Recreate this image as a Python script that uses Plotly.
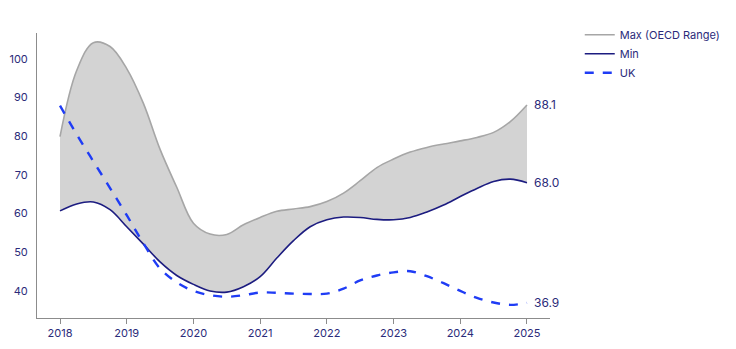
import plotly.graph_objects as go

years = [2018 + 0.25 * i for i in range(29)]
max_vals = [79.9, 97.0, 104.2, 103.2, 97.5, 88.5, 76.6, 66.8, 57.5, 54.7, 54.6, 57.1, 59.0, 60.6, 61.2,
            61.8, 63.1, 65.3, 68.5, 71.9, 74.1, 75.9, 77.1, 78.0, 78.8, 79.7, 81.0, 83.8, 88.1]
min_vals = [60.7, 62.5, 63.0, 61.0, 56.6, 52.1, 47.5, 44.0, 41.7, 40.0, 39.7, 41.1, 43.7, 48.5, 53.0,
            56.6, 58.4, 59.1, 59.0, 58.5, 58.4, 59.0, 60.4, 62.2, 64.4, 66.5, 68.3, 68.9, 68.0]
uk_vals = [87.9, 80.5, 73.5, 66.6, 59.6, 52.3, 45.8, 42.2, 40.0, 38.9, 38.5, 38.9, 39.6, 39.5, 39.3,
           39.2, 39.3, 40.6, 42.7, 44.0, 44.8, 45.1, 43.8, 42.0, 40.0, 38.2, 37.0, 36.4, 36.9]
tick_years = [2018, 2019, 2020, 2021, 2022, 2023, 2024, 2025]
y_ticks = [40, 50, 60, 70, 80, 90, 100]

NAVY = "#1c1c80"
TEXT = "#2b2b7a"
SM = 1.0
fig = go.Figure()
# shaded range (no legend)
fig.add_trace(go.Scatter(x=years, y=max_vals, mode="lines", showlegend=False, hoverinfo="skip",
                         line=dict(width=0, shape="spline", smoothing=SM)))
fig.add_trace(go.Scatter(x=years, y=min_vals, mode="lines", showlegend=False, hoverinfo="skip",
                         fill="tonexty", fillcolor="#d3d3d3",
                         line=dict(width=0, shape="spline", smoothing=SM)))
fig.add_trace(go.Scatter(x=years, y=max_vals, mode="lines", name="Max (OECD Range)",
                         line=dict(color="#a6a6a6", width=1.6, shape="spline", smoothing=SM)))
fig.add_trace(go.Scatter(x=years, y=min_vals, mode="lines", name="Min",
                         line=dict(color=NAVY, width=1.6, shape="spline", smoothing=SM)))
fig.add_trace(go.Scatter(x=years, y=uk_vals, mode="lines", name="UK",
                         line=dict(color="#1f3cf5", width=2.4, dash="dash", shape="spline", smoothing=SM)))

for val in [max_vals[-1], min_vals[-1], uk_vals[-1]]:
    fig.add_annotation(x=years[-1], y=val, text=f"{val:.1f}", showarrow=False,
                       xanchor="left", xshift=5, font=dict(color=TEXT, size=12))

fig.update_layout(
    width=736, height=349,
    margin=dict(l=37, r=186, t=33, b=31, autoexpand=False),
    paper_bgcolor="white", plot_bgcolor="white",
    font=dict(family="Inter, Roboto, sans-serif", size=11, color=TEXT),
    legend=dict(x=1.058, y=1.045, xanchor="left", yanchor="top", traceorder="normal",
                font=dict(size=11, color=TEXT), tracegroupgap=0),
    xaxis=dict(range=[2017.655, 2025.345], tickvals=tick_years, ticktext=[str(t) for t in tick_years],
               showgrid=False, zeroline=False, showline=True, linecolor="#8c8c8c", linewidth=1,
               ticks="outside", ticklen=5, tickcolor="#8c8c8c"),
    yaxis=dict(range=[33, 106.7], tickvals=y_ticks, showgrid=False, zeroline=False,
               showline=True, linecolor="#8c8c8c", linewidth=1, ticks="", ticklabelstandoff=6),
)
fig.write_html("out.html")
